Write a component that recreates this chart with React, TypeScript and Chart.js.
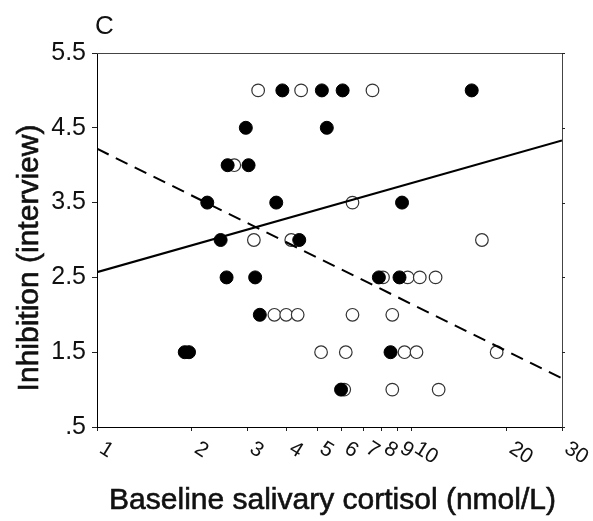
import React, { useEffect, useRef } from "react";
import { Chart, registerables } from "chart.js";

Chart.register(...registerables);

// Filled circles (one group)
const filledX = [3.88, 5.18, 6.03, 15.5, 2.97, 5.37, 2.6, 3.03, 2.24, 3.71, 9.31, 2.47, 4.39, 2.58, 3.18, 7.86, 9.14, 3.29, 1.9, 1.96, 8.56, 5.96];
const filledY = [5, 5, 5, 5, 4.5, 4.5, 4, 4, 3.5, 3.5, 3.5, 3, 3, 2.5, 2.5, 2.5, 2.5, 2, 1.5, 1.5, 1.5, 1];

// Open circles (other group)
const openX = [3.25, 4.45, 7.5, 2.73, 6.48, 3.15, 4.14, 16.7, 8.1, 9.7, 10.6, 11.9, 3.66, 3.99, 4.34, 6.48, 8.67, 5.15, 6.17, 9.48, 10.35, 18.6, 6.1, 8.67, 12.17];
const openY = [5, 5, 5, 4, 3.5, 3, 3, 3, 2.5, 2.5, 2.5, 2.5, 2, 2, 2, 2, 2, 1.5, 1.5, 1.5, 1.5, 1.5, 1, 1, 1];

// Regression lines (endpoints)
const solidX = [1, 30];
const solidY = [2.57, 4.33];
const dashedX = [1, 30];
const dashedY = [4.22, 1.15];

const xTickValues = [1, 2, 3, 4, 5, 6, 7, 8, 9, 10, 20, 30];
const xTickLabels = ["1", "2", "3", "4", "5", "6", "7", "8", "9", "10", "20", "30"];
const yTickValues = [5.5, 4.5, 3.5, 2.5, 1.5, 0.5];
const yTickLabels = ["5.5", "4.5", "3.5", "2.5", "1.5", ".5"];

const panelLabel = "C";
const xTitle = "Baseline salivary cortisol (nmol/L)";
const yTitle = "Inhibition (interview)";

const FONT = "'Liberation Sans', Arial, Helvetica, sans-serif";

export default function App() {
  const ref = useRef<HTMLCanvasElement | null>(null);

  useEffect(() => {
    if (!ref.current) return;
    const pts = (xs: number[], ys: number[]) => xs.map((x, i) => ({ x, y: ys[i] }));

    const textPlugin = {
      id: "customText",
      afterDraw(chart: any) {
        const ctx = chart.ctx as CanvasRenderingContext2D;
        const area = chart.chartArea;
        const xs = chart.scales.x;
        const ys = chart.scales.y;
        ctx.save();
        // frame (top & right)
        ctx.strokeStyle = "#444";
        ctx.lineWidth = 1;
        ctx.beginPath();
        ctx.moveTo(area.left, area.top + 0.5);
        ctx.lineTo(area.right + 0.5, area.top + 0.5);
        ctx.lineTo(area.right + 0.5, area.bottom);
        ctx.stroke();
        // right side small ticks
        ctx.strokeStyle = "#222";
        yTickValues.forEach((v) => {
          const py = Math.round(ys.getPixelForValue(v)) + 0.5;
          ctx.beginPath();
          ctx.moveTo(area.right, py);
          ctx.lineTo(area.right + 3, py);
          ctx.stroke();
        });
        ctx.fillStyle = "#111";
        ctx.strokeStyle = "#111";
        ctx.lineWidth = 0.6;
        // x tick labels rotated clockwise
        ctx.font = `21px ${FONT}`;
        ctx.textAlign = "left";
        ctx.textBaseline = "top";
        xTickValues.forEach((v, i) => {
          const px = xs.getPixelForValue(v);
          ctx.save();
          ctx.translate(px + 10, area.bottom + 11);
          ctx.rotate((32 * Math.PI) / 180);
          ctx.fillText(xTickLabels[i], 0, 0);
          ctx.restore();
        });
        // x title
        ctx.font = `30px ${FONT}`;
        ctx.textAlign = "center";
        ctx.textBaseline = "alphabetic";
        const xc = (area.left + area.right) / 2 + 3;
        ctx.fillText(xTitle, xc, 509);
        ctx.strokeText(xTitle, xc, 509);
        // y title
        ctx.save();
        ctx.translate(38, 258);
        ctx.rotate(-Math.PI / 2);
        ctx.fillText(yTitle, 0, 0);
        ctx.strokeText(yTitle, 0, 0);
        ctx.restore();
        // panel label
        ctx.font = `26px ${FONT}`;
        ctx.textAlign = "left";
        ctx.fillText(panelLabel, 95, 34);
        ctx.restore();
      },
    };

    const chart = new Chart(ref.current, {
      type: "scatter",
      data: {
        datasets: [
          {
            label: "solid",
            data: pts(solidX, solidY),
            showLine: true,
            borderColor: "#000",
            borderWidth: 2,
            pointRadius: 0,
            order: 0,
          } as any,
          {
            label: "dashed",
            data: pts(dashedX, dashedY),
            showLine: true,
            borderColor: "#000",
            borderWidth: 2,
            borderDash: [13, 8],
            pointRadius: 0,
            order: 0,
          } as any,
          {
            label: "filled",
            data: pts(filledX, filledY),
            backgroundColor: "#000",
            borderColor: "#000",
            borderWidth: 1,
            pointRadius: 6.5,
            order: 1,
          },
          {
            label: "open",
            data: pts(openX, openY),
            backgroundColor: "#fff",
            borderColor: "#333",
            borderWidth: 1.2,
            pointRadius: 6.3,
            order: 2,
          },
        ],
      },
      options: {
        responsive: false,
        animation: false,
        events: [],
        layout: { padding: { left: 0, top: 53, right: 31, bottom: 0 } },
        plugins: {
          legend: { display: false },
          tooltip: { enabled: false },
          title: { display: false },
        },
        scales: {
          x: {
            type: "logarithmic",
            min: 1,
            max: 30,
            afterBuildTicks: (scale: any) => {
              scale.ticks = xTickValues.map((v) => ({ value: v }));
            },
            afterFit: (scale: any) => {
              scale.height = 94;
            },
            ticks: { display: false },
            grid: {
              display: true,
              drawOnChartArea: false,
              drawTicks: true,
              tickLength: 4,
              color: "#222",
            },
            border: { display: true, color: "#000", width: 1 },
          },
          y: {
            type: "linear",
            min: 0.5,
            max: 5.5,
            afterBuildTicks: (scale: any) => {
              scale.ticks = yTickValues.map((v) => ({ value: v }));
            },
            afterFit: (scale: any) => {
              scale.width = 97;
            },
            ticks: {
              color: "#111",
              font: { family: FONT, size: 25 },
              padding: 6,
              callback: (v: any) => {
                const i = yTickValues.indexOf(Number(v));
                return i >= 0 ? yTickLabels[i] : "";
              },
            },
            grid: {
              display: true,
              drawOnChartArea: false,
              drawTicks: true,
              tickLength: 5,
              color: "#222",
            },
            border: { display: true, color: "#000", width: 1 },
          },
        },
      },
      plugins: [textPlugin],
    });
    return () => chart.destroy();
  }, []);

  return (
    <canvas
      ref={ref}
      width={593}
      height={521}
      style={{ position: "fixed", left: 0, top: 0, display: "block", background: "#fff" }}
    />
  );
}
